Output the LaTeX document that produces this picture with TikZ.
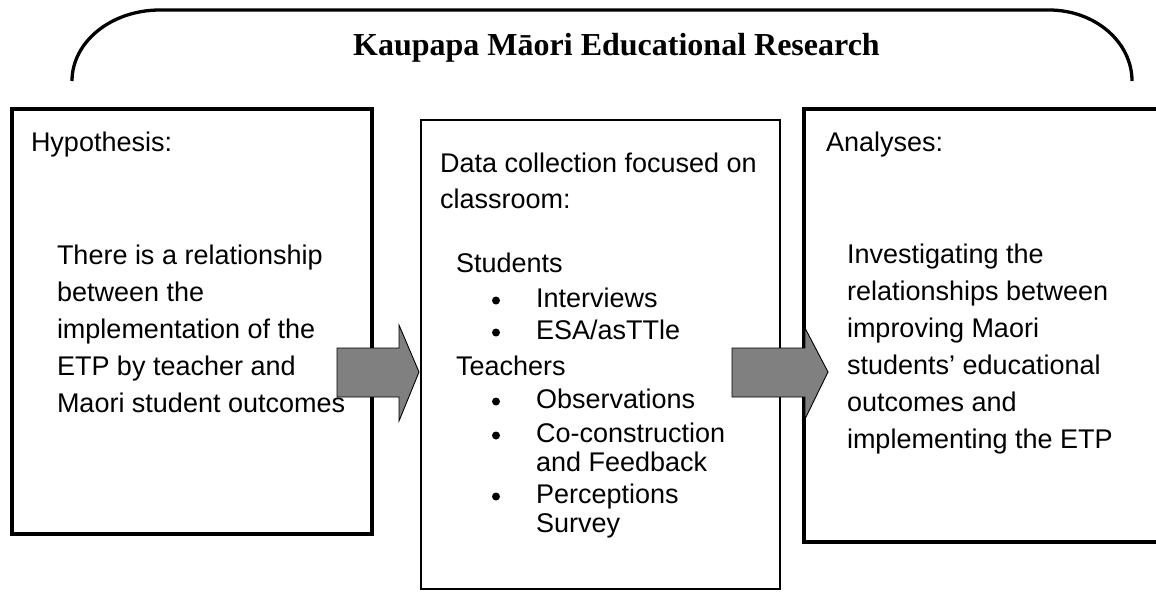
\documentclass[tikz,border=0pt]{standalone}
\usepackage{fontspec}
\setmainfont{Liberation Sans}
\newfontfamily\titlefont{Liberation Serif}

\definecolor{arrowgray}{RGB}{128,128,128}

\tikzstyle{box} = [draw=black, line width=3.5pt, inner sep=0, outer sep=0]
\tikzstyle{txt} = [inner sep=0, outer sep=0, anchor=base west, font=\fontsize{27}{37}\selectfont]
\tikzstyle{blockarrow} = [draw=black, line width=0.9pt, fill=arrowgray, line join=miter]

\begin{document}
\begin{tikzpicture}[x=1pt,y=-1pt]

\useasboundingbox (0,0) rectangle (1156,592);
\clip (0,0) rectangle (1156,592);

% heading bracket
\draw[line width=3.3pt] (72,81) .. controls (72,42) and (111,10) .. (160,10) -- (1049,10) .. controls (1095,10) and (1132,42) .. (1132,81);
\node[inner sep=0, anchor=base west, font=\titlefont\bfseries\fontsize{32}{38}\selectfont] (title) at (353,55) {Kaupapa Māori Educational Research};

% boxes
\node[box, minimum width=360pt, minimum height=425pt] (hyp) at (192,321.5) {};
\node[box, line width=2.8pt, minimum width=359pt, minimum height=469pt] (data) at (600.5,354.5) {};
\node[box, minimum width=358pt, minimum height=433pt] (ana) at (983,325.5) {};

%HYPOTHESIS
\node[txt] (hyptitle) at (31,151) {Hypothesis:};
\node[txt] (hyptext) at (57,264) {\parbox[t]{320pt}{There is a relationship\\between the\\implementation of the\\ETP by teacher and\\Maori student outcomes}};

%DATA
\node[txt] (datahead) at (440,172) {\parbox[t]{330pt}{\fontsize{27}{36}\selectfont Data collection focused on\\classroom:}};
\node[txt] (students) at (456,272) {Students};
\node[txt] (teachers) at (456,375) {Teachers};
\foreach \y/\entry [count=\i] in {307/Interviews, 339/{ESA/asTTle}, 408/Observations, 442/{Co-construction\\and Feedback}, 503/{Perceptions\\Survey}} {
  \fill (496,\y-6.5) circle (4pt);
  \node[txt] (item\i) at (536,\y) {\parbox[t]{220pt}{\fontsize{27}{29.5}\selectfont \entry}};
}

%ANALYSES
\node[txt] (anatitle) at (826,151) {Analyses:};
\node[txt] (anatext) at (847,263) {\parbox[t]{300pt}{Investigating the\\relationships between\\improving Maori\\students’ educational\\outcomes and\\implementing the ETP}};

% block arrows
\filldraw[blockarrow] (337,348) -- (399,348) -- (399,325) -- (419,372) -- (399,421) -- (399,397) -- (337,397) -- cycle;
\filldraw[blockarrow] (732,348) -- (805,348) -- (805,328) -- (828,372) -- (805,419) -- (805,397) -- (732,397) -- cycle;

\end{tikzpicture}
\end{document}
